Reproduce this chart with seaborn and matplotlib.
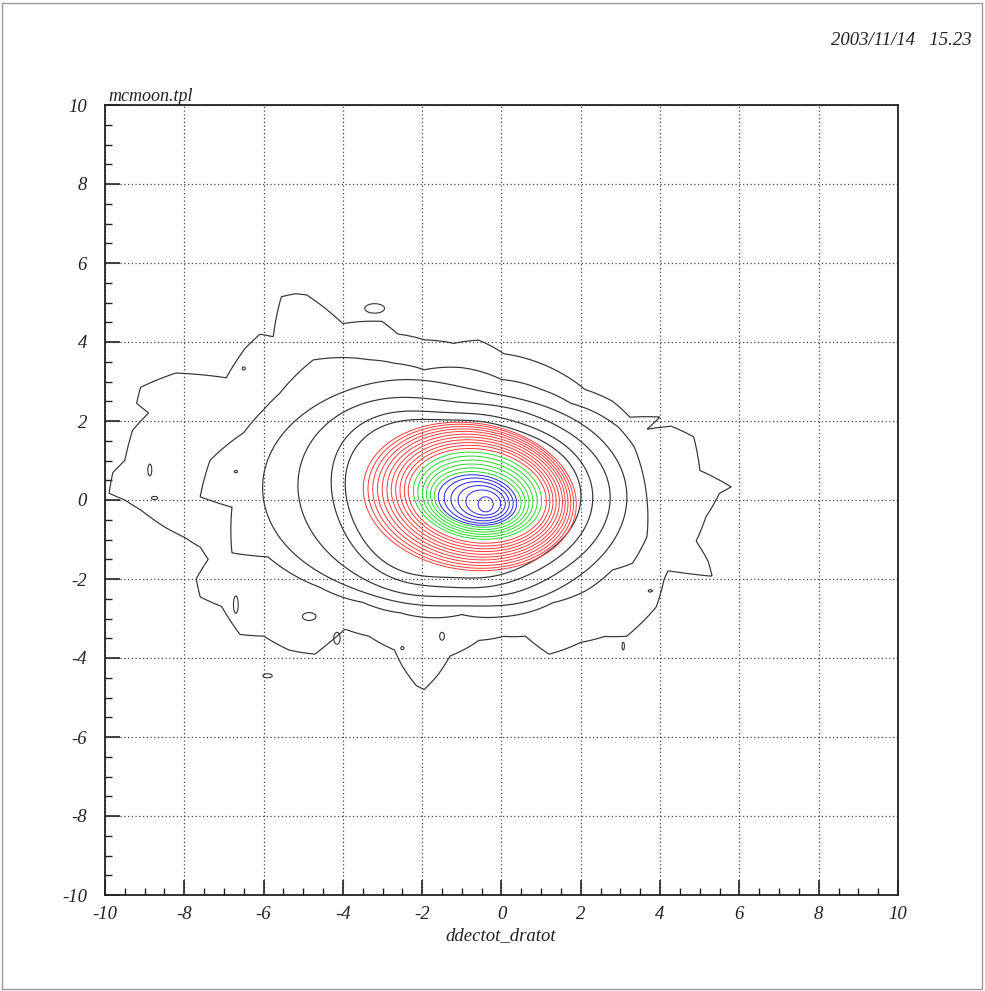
import numpy as np
import matplotlib
matplotlib.use("Agg")
import matplotlib.pyplot as plt
import seaborn as sns
from matplotlib.patches import Rectangle
from matplotlib.ticker import MultipleLocator

# ---------------- data ----------------
title_text = "mcmoon.tpl"
date_text = "2003/11/14   15.23"
x_title = "ddectot_dratot"
tick_values = [-10, -8, -6, -4, -2, 0, 2, 4, 6, 8, 10]
tick_labels = ["-10", "-8", "-6", "-4", "-2", "0", "2", "4", "6", "8", "10"]

# black contours: radius (data units) read at angles (deg) around (-1, 0)
centre_x, centre_y = -1.0, 0.0
outer_angles = [1.5, 2.8, 7.1, 15.3, 19.5, 21.0, 22.8, 26.3, 33.3, 42.0, 59.9, 74.0,
                84.0, 92.9, 103.0, 111.0, 114.0, 123.9, 125.5, 127.0, 128.8, 131.5,
                139.0, 140.5, 145.0, 152.5, 156.0, 160.6, 163.4, 164.4, 168.0, 173.3,
                175.5, 178.9, 180.0, 181.8, 185.2, 187.7, 190.3, 193.2, 196.6, 200.4,
                204.0, 211.3, 214.6, 221.1, 226.5, 228.0, 235.7, 245.9, 250.3, 256.3,
                258.8, 262.0, 265.7, 276.9, 287.0, 294.9, 299.4, 309.8, 316.2, 320.3,
                331.1, 338.6, 341.0, 343.0, 346.0, 350.0, 356.0]
outer_radii = [6.5, 6.8, 6.05, 6.06, 5.6, 5.0, 5.42, 4.73, 4.55, 4.18, 3.99, 3.85,
               4.07, 3.97, 4.16, 4.5, 4.95, 5.38, 6.0, 6.5, 6.7, 6.87,
               6.3, 6.6, 6.68, 6.7, 7.9, 8.59, 8.56, 8.2, 8.49, 8.56,
               8.83, 8.9, 8.5, 8.1, 7.53, 7.06, 6.7, 6.57, 6.99, 7.04,
               6.63, 6.55, 6.07, 5.78, 5.38, 4.4, 4.17, 4.16, 4.46, 4.84,
               4.89, 4.5, 3.96, 3.58, 3.61, 3.8, 4.48, 4.69, 4.99, 5.4,
               5.6, 5.48, 5.5, 6.6, 6.4, 6.0, 6.17]
second_angles = [0.0, 17.2, 25.0, 32.9, 41.7, 54.5, 71.8, 90.0, 106.0, 116.0, 123.5,
                 136.6, 149.6, 155.5, 162.8, 171.0, 179.3, 181.8, 193.0, 196.4, 211.4,
                 226.0, 241.5, 270.0, 288.7, 311.5, 324.0, 335.0, 339.6, 348.7]
second_radii = [4.67, 4.55, 4.36, 4.05, 3.68, 3.44, 3.21, 3.35, 3.43, 3.85, 4.26,
                5.16, 5.33, 5.5, 5.76, 6.43, 6.6, 5.8, 5.95, 5.1, 4.22,
                3.6, 3.25, 2.9, 3.12, 3.47, 3.89, 4.19, 4.59, 4.76]
# inner black contours, radii every 30 degrees starting at 0
black3_radii = [4.16, 3.65, 2.95, 2.86, 3.5, 4.5, 5.0, 3.9, 3.0, 2.68, 3.0, 3.6]
black4_radii = [3.74, 3.25, 2.65, 2.47, 3.0, 3.9, 4.1, 3.4, 2.75, 2.45, 2.7, 3.2]
black5_radii = [3.3, 2.9, 2.35, 2.2, 2.6, 3.3, 3.25, 2.9, 2.45, 2.22, 2.4, 2.85]
black6_radii = [3.0, 2.65, 2.15, 2.02, 2.35, 2.95, 2.9, 2.6, 2.2, 1.97, 2.15, 2.55]

# coloured contours: extents (left, right, bottom, top), outer -> inner
red_left = [-3.50, -3.38, -3.26, -3.14, -3.02, -2.90, -2.79, -2.68, -2.57, -2.46, -2.36]
red_right = [1.90, 1.83, 1.76, 1.69, 1.62, 1.55, 1.47, 1.39, 1.31, 1.23, 1.14]
red_bottom = [-1.77, -1.71, -1.64, -1.57, -1.50, -1.43, -1.36, -1.29, -1.22, -1.15, -1.08]
red_top = [1.95, 1.90, 1.84, 1.78, 1.72, 1.65, 1.58, 1.51, 1.44, 1.37, 1.29]

green_left = [-2.23, -2.12, -2.00, -1.90, -1.80, -1.70]
green_right = [1.02, 0.91, 0.80, 0.70, 0.60, 0.50]
green_bottom = [-0.98, -0.92, -0.86, -0.80, -0.74, -0.68]
green_top = [1.20, 1.10, 1.00, 0.90, 0.80, 0.71]

blue_left = [-1.60, -1.45, -1.28, -1.10, -0.90, -0.59]
blue_right = [0.39, 0.30, 0.20, 0.10, -0.02, -0.21]
blue_bottom = [-0.63, -0.58, -0.52, -0.45, -0.38, -0.30]
blue_top = [0.63, 0.55, 0.46, 0.36, 0.25, 0.08]

# small isolated islands of the lowest level: centre x, centre y, half sizes
island_x = [-8.87, -8.75, -6.5, -3.2, -6.7, -6.7, -4.85, -4.15, -2.5, -1.5, 3.75, 3.07, -5.9]
island_y = [0.76, 0.05, 3.33, 4.85, 0.72, -2.65, -2.95, -3.5, -3.75, -3.45, -2.3, -3.7, -4.45]
island_rx = [0.05, 0.08, 0.04, 0.25, 0.04, 0.06, 0.17, 0.08, 0.04, 0.06, 0.05, 0.03, 0.12]
island_ry = [0.15, 0.04, 0.04, 0.12, 0.03, 0.22, 0.10, 0.15, 0.04, 0.10, 0.03, 0.10, 0.05]

# ---------------- styling ----------------
sns.set_theme(style="white")
plt.rcParams['font.family'] = ['Liberation Serif', 'DejaVu Serif']
plt.rcParams['font.style'] = 'italic'
plt.rcParams['axes.unicode_minus'] = False

W, H = 985, 991
fig = plt.figure(figsize=(W / 100, H / 100), dpi=100)
fig.patch.set_facecolor('white')
ax = fig.add_axes([105 / W, 1 - 895 / H, (898 - 105) / W, (895 - 105) / H])
ax.set_facecolor('white')

xs = np.linspace(-10, 10, 1201)
X, Y = np.meshgrid(xs, xs)
TH = np.degrees(np.arctan2(Y - centre_y, X - centre_x)) % 360
RR = np.hypot(X - centre_x, Y - centre_y)


def polar_field(angles, radii):
    R = np.interp(TH, np.asarray(angles, float), np.asarray(radii, float), period=360)
    return RR / R


def smooth_polar_field(radii):
    # periodic (trigonometric) curve through equally spaced angle samples
    r = np.asarray(radii, float)
    n = len(r)
    c = np.fft.rfft(r) / n
    th = np.radians(TH)
    R = np.full(TH.shape, c[0].real)
    for k in range(1, len(c)):
        f = 1.0 if (n % 2 == 0 and k == n // 2) else 2.0
        R += f * (c[k].real * np.cos(k * th) - c[k].imag * np.sin(k * th))
    return RR / R


def ellipse_field(l, r, b, t, tilt_deg=-8.0):
    cx, cy = (l + r) / 2, (b + t) / 2
    a, bb = (r - l) / 2, (t - b) / 2
    ph = np.radians(tilt_deg)
    u = (X - cx) * np.cos(ph) + (Y - cy) * np.sin(ph)
    v = -(X - cx) * np.sin(ph) + (Y - cy) * np.cos(ph)
    return np.sqrt((u / a) ** 2 + (v / bb) ** 2)


black = '#333333'
ax.contour(X, Y, polar_field(outer_angles, outer_radii), levels=[1.0], colors=black, linewidths=0.85)
ax.contour(X, Y, polar_field(second_angles, second_radii), levels=[1.0], colors=black, linewidths=0.85)
for rad in (black3_radii, black4_radii, black5_radii, black6_radii):
    ax.contour(X, Y, smooth_polar_field(rad), levels=[1.0], colors=black, linewidths=0.85)

for (L, R_, B, T, col) in ((red_left, red_right, red_bottom, red_top, '#ff3a3a'),
                           (green_left, green_right, green_bottom, green_top, '#2ad82a'),
                           (blue_left, blue_right, blue_bottom, blue_top, '#2525dd')):
    for l, r, b, t in zip(L, R_, B, T):
        ax.contour(X, Y, ellipse_field(l, r, b, t), levels=[1.0], colors=col, linewidths=0.7)

for cx, cy, rx, ry in zip(island_x, island_y, island_rx, island_ry):
    f = np.sqrt(((X - cx) / rx) ** 2 + ((Y - cy) / ry) ** 2)
    ax.contour(X, Y, f, levels=[1.0], colors=black, linewidths=0.8)

# ---------------- axes ----------------
ax.set_xlim(-10, 10)
ax.set_ylim(-10, 10)
ax.set_xticks(tick_values)
ax.set_yticks(tick_values)
ax.set_xticklabels(tick_labels)
ax.set_yticklabels(tick_labels)
ax.xaxis.set_minor_locator(MultipleLocator(0.5))
ax.yaxis.set_minor_locator(MultipleLocator(0.5))
ax.tick_params(which='major', direction='in', length=11, width=1.2, color='#222',
               labelsize=13.5, labelcolor='#222', top=False, right=False,
               bottom=True, left=True)
ax.tick_params(axis='x', which='major', pad=8)
ax.tick_params(axis='y', which='major', pad=13)
ax.tick_params(which='minor', direction='in', length=5, width=1.0, color='#222',
               top=False, right=False, bottom=True, left=True)
ax.grid(True, which='major', linestyle=(0, (1, 2)), color='#444', linewidth=0.9)
ax.grid(False, which='minor')
for s in ax.spines.values():
    s.set_visible(True)
    s.set_color('#222')
    s.set_linewidth(1.3)

fig.text(108 / W, 1 - 101 / H, title_text, fontsize=13, ha='left', va='baseline', color='#222')
fig.text(972 / W, 1 - 45 / H, date_text, fontsize=13.5, ha='right', va='baseline', color='#222')
fig.text(501 / W, 1 - 940 / H, x_title, fontsize=13.5, ha='center', va='baseline', color='#222')

fig.add_artist(Rectangle((0.002, 0.002), 0.995, 0.995, transform=fig.transFigure,
                         fill=False, edgecolor='#999999', linewidth=1.0))

fig.savefig('out.png', dpi=100)
